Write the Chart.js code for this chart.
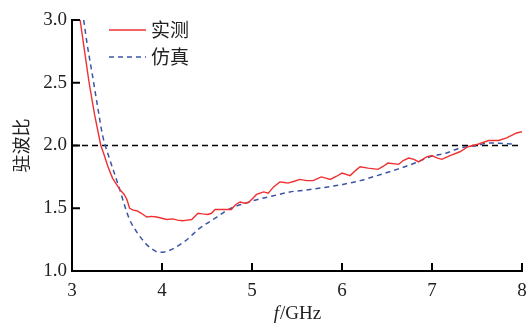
<!DOCTYPE html>
<html>
<head>
<meta charset="utf-8">
<script src="https://cdn.jsdelivr.net/npm/chart.js@4/dist/chart.umd.min.js"></script>
<style>
    html, body { margin: 0; padding: 0; background: #fff; }
    #wrap { width: 526px; height: 324px; position: relative; }
</style>
</head>
<body>
<div id="wrap"><canvas id="vswrChart"></canvas></div>
<script>
// measured (实测)
const freqMeasured = [3.09, 3.14, 3.19, 3.25, 3.32, 3.35, 3.40, 3.45, 3.53, 3.58, 3.61, 3.64, 3.68, 3.72, 3.77, 3.83, 3.88, 3.94, 4.00, 4.05,
    4.12, 4.17, 4.23, 4.28, 4.33, 4.40, 4.45, 4.51, 4.55, 4.59, 4.68, 4.77, 4.82, 4.87, 4.92, 4.96, 5.01, 5.05, 5.13, 5.18,
    5.24, 5.31, 5.36, 5.40, 5.47, 5.53, 5.61, 5.68, 5.74, 5.77, 5.82, 5.87, 5.94, 6.00, 6.09, 6.15, 6.20, 6.29, 6.40, 6.46,
    6.51, 6.63, 6.68, 6.74, 6.80, 6.85, 6.94, 7.00, 7.06, 7.11, 7.20, 7.31, 7.40, 7.51, 7.63, 7.74, 7.83, 7.94, 8.00];
const vswrMeasured = [3.00, 2.75, 2.50, 2.25, 2.00, 1.94, 1.83, 1.74, 1.65, 1.61, 1.57, 1.50, 1.485, 1.48, 1.46, 1.43, 1.435, 1.43, 1.42, 1.41,
    1.415, 1.405, 1.40, 1.405, 1.41, 1.46, 1.455, 1.45, 1.46, 1.49, 1.49, 1.49, 1.53, 1.55, 1.54, 1.545, 1.58, 1.61, 1.63, 1.62,
    1.67, 1.71, 1.705, 1.70, 1.715, 1.73, 1.72, 1.72, 1.74, 1.75, 1.74, 1.73, 1.755, 1.78, 1.76, 1.80, 1.83, 1.82, 1.81, 1.835,
    1.86, 1.85, 1.88, 1.90, 1.89, 1.87, 1.91, 1.92, 1.90, 1.89, 1.92, 1.95, 1.99, 2.01, 2.04, 2.04, 2.06, 2.10, 2.11];

// simulated (仿真)
const freqSim = [3.13, 3.17, 3.22, 3.28, 3.34, 3.41, 3.47, 3.53, 3.59, 3.64, 3.72, 3.83, 3.90, 3.96, 4.01, 4.07, 4.13, 4.24, 4.31, 4.40,
    4.50, 4.61, 4.70, 4.80, 4.90, 5.01, 5.12, 5.24, 5.42, 5.60, 5.80, 6.01, 6.20, 6.39, 6.61, 6.81, 6.98, 7.16, 7.31, 7.50,
    7.64, 7.79, 7.93];
const vswrSim = [3.00, 2.80, 2.59, 2.33, 2.08, 1.91, 1.78, 1.65, 1.51, 1.41, 1.31, 1.21, 1.17, 1.15, 1.15, 1.16, 1.18, 1.23, 1.27, 1.33,
    1.38, 1.43, 1.475, 1.51, 1.535, 1.56, 1.58, 1.60, 1.63, 1.645, 1.665, 1.69, 1.72, 1.76, 1.81, 1.86, 1.91, 1.94, 1.98, 2.00,
    2.02, 2.015, 2.01];

const refLevel = 2.0;
const seriesNames = ['实测', '仿真'];
const xTicks = [3, 4, 5, 6, 7, 8];
const yTicks = [1.0, 1.5, 2.0, 2.5, 3.0];

const serif = '"Liberation Serif", "DejaVu Serif", serif';
const cjk = '"Noto Sans CJK SC", sans-serif';

function toPoints(xs, ys) {
    return xs.map((x, i) => ({ x: x, y: ys[i] }));
}

// inward tick marks, legend, and the x title with italic f
const decorPlugin = {
    id: 'decor',
    afterDraw(chart) {
        const ctx = chart.ctx;
        const xs = chart.scales.x;
        const ys = chart.scales.y;
        const area = chart.chartArea;
        ctx.save();
        ctx.setLineDash([]);
        ctx.strokeStyle = '#000';
        ctx.lineWidth = 2;
        xTicks.forEach(v => {
            const px = xs.getPixelForValue(v);
            ctx.beginPath();
            ctx.moveTo(px, area.bottom);
            ctx.lineTo(px, area.bottom - 8);
            ctx.stroke();
        });
        yTicks.forEach(v => {
            const py = ys.getPixelForValue(v);
            ctx.beginPath();
            ctx.moveTo(area.left, py);
            ctx.lineTo(area.left + 8, py);
            ctx.stroke();
        });

        // legend
        const lx = area.left + 37;
        const entries = [
            { name: seriesNames[0], color: '#f03030', dash: [], y: 30 },
            { name: seriesNames[1], color: '#3b55a6', dash: [5, 4], y: 57 }
        ];
        entries.forEach(e => {
            ctx.beginPath();
            ctx.setLineDash(e.dash);
            ctx.strokeStyle = e.color;
            ctx.lineWidth = 1.4;
            ctx.moveTo(lx, e.y);
            ctx.lineTo(lx + 37, e.y);
            ctx.stroke();
            ctx.setLineDash([]);
            ctx.fillStyle = '#222';
            ctx.font = '19px ' + cjk;
            ctx.textBaseline = 'middle';
            ctx.textAlign = 'left';
            ctx.fillText(e.name, lx + 42, e.y);
        });

        // x title: f/GHz
        ctx.fillStyle = '#222';
        ctx.textBaseline = 'alphabetic';
        ctx.font = 'italic 19px ' + serif;
        const fw = ctx.measureText('f').width;
        ctx.font = '19px ' + serif;
        const rest = '/GHz';
        const rw = ctx.measureText(rest).width;
        const cx = (area.left + area.right) / 2;
        const startX = cx - (fw + rw) / 2;
        ctx.font = 'italic 19px ' + serif;
        ctx.fillText('f', startX, 319);
        ctx.font = '19px ' + serif;
        ctx.fillText(rest, startX + fw + 1, 319);
        ctx.restore();
    }
};

const ctx = document.getElementById('vswrChart').getContext('2d');
const vswrChart = new Chart(ctx, {
    type: 'line',
    data: {
        datasets: [{
            label: seriesNames[0],
            data: toPoints(freqMeasured, vswrMeasured),
            borderColor: '#f03030',
            borderWidth: 1.4,
            pointRadius: 0,
            tension: 0,
            fill: false
        }, {
            label: seriesNames[1],
            data: toPoints(freqSim, vswrSim),
            borderColor: '#3b55a6',
            borderWidth: 1.5,
            borderDash: [5, 4],
            pointRadius: 0,
            cubicInterpolationMode: 'monotone',
            fill: false
        }, {
            label: 'ref',
            data: [{ x: 3, y: refLevel }, { x: 8, y: refLevel }],
            borderColor: '#000',
            borderWidth: 1.5,
            borderDash: [6, 4],
            pointRadius: 0,
            fill: false
        }]
    },
    options: {
        responsive: true,
        maintainAspectRatio: false,
        animation: false,
        layout: {
            padding: { top: 20, right: 4, left: 0, bottom: 0 }
        },
        scales: {
            x: {
                type: 'linear',
                min: 3,
                max: 8,
                afterFit: function(scale) {
                    scale.height = 53;
                    scale.paddingLeft = 0;
                    scale.paddingRight = 0;
                },
                afterBuildTicks: function(scale) {
                    scale.ticks = xTicks.map(v => ({ value: v }));
                },
                grid: { display: false, drawTicks: false },
                border: { display: true, color: '#000', width: 2 },
                ticks: {
                    padding: 9,
                    color: '#222',
                    font: { family: serif, size: 19 }
                }
            },
            y: {
                min: 1,
                max: 3,
                afterFit: function(scale) {
                    scale.width = 72;
                    scale.paddingTop = 0;
                    scale.paddingBottom = 0;
                },
                afterBuildTicks: function(scale) {
                    scale.ticks = yTicks.map(v => ({ value: v }));
                },
                grid: { display: false, drawTicks: false },
                border: { display: true, color: '#000', width: 2 },
                title: {
                    display: true,
                    text: '驻波比',
                    color: '#222',
                    padding: { top: 10, bottom: 0 },
                    font: { family: cjk, size: 18 }
                },
                ticks: {
                    padding: 5,
                    color: '#222',
                    font: { family: serif, size: 19 },
                    callback: function(value) { return Number(value).toFixed(1); }
                }
            }
        },
        plugins: {
            legend: { display: false },
            tooltip: { enabled: false }
        }
    },
    plugins: [decorPlugin]
});
</script>
</body>
</html>
